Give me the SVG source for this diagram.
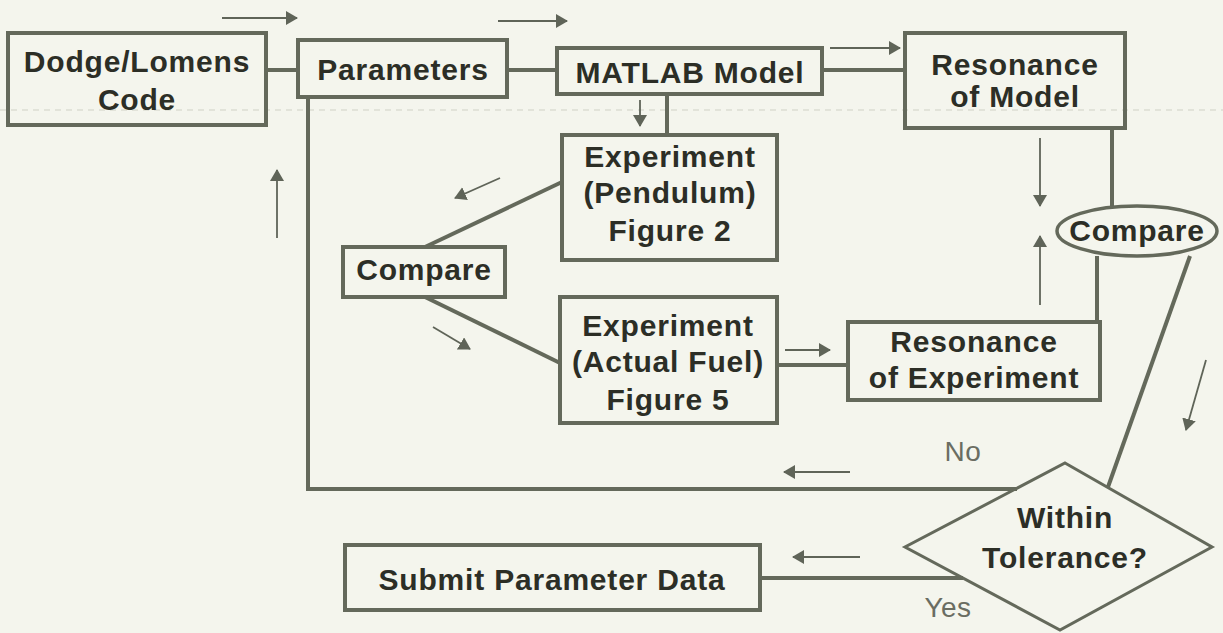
<svg xmlns="http://www.w3.org/2000/svg" width="1223" height="633" viewBox="0 0 1223 633">
<defs>
<style>
.bg{fill:#f4f5ed}
.box{fill:none;stroke:#64695b;stroke-width:4}
.ell{fill:none;stroke:#64695b;stroke-width:3.5}
.dia{fill:none;stroke:#64695b;stroke-width:3}
.con{fill:none;stroke:#64695b;stroke-width:4}
.arr{fill:none;stroke:#5f6458;stroke-width:1.8}
.t{font-family:"Liberation Sans",Arial,sans-serif;font-weight:bold;font-size:30px;letter-spacing:0.8px;fill:#2c2e26;text-anchor:middle}
.lbl{font-family:"Liberation Sans",Arial,sans-serif;font-size:28px;letter-spacing:0.5px;fill:#6a6d62;text-anchor:middle}
</style>
<marker id="ah" viewBox="0 0 12 14" refX="11" refY="7" markerWidth="12" markerHeight="14" markerUnits="userSpaceOnUse" orient="auto">
<path d="M0,0 L12,7 L0,14 z" fill="#5f6458"/>
</marker>
</defs>
<rect class="bg" x="0" y="0" width="1223" height="633"/>
<line x1="0" y1="110" x2="1223" y2="110" stroke="#cfd1c5" stroke-width="1" stroke-dasharray="6 5"/>

<g id="connectors">
<polyline class="con" points="265,70 298,70"/>
<polyline class="con" points="507,70 557,70"/>
<polyline class="con" points="822,70 905,70"/>
<polyline class="con" points="667,94 667,135"/>
<polyline class="con" points="308,97 308,489 1017,489"/>
<polyline class="con" points="1112,128 1112,207"/>
<polyline class="con" points="1097,256 1097,322"/>
<polyline class="con" points="1190,256 1108,487"/>
<polyline class="con" points="425,247 562,182"/>
<polyline class="con" points="425,297 560,363"/>
<polyline class="con" points="777,365 848,365"/>
<polyline class="con" points="760,578 963,578"/>
<line class="arr" x1="222" y1="18" x2="297" y2="18" marker-end="url(#ah)"/>
<line class="arr" x1="498" y1="21" x2="567" y2="21" marker-end="url(#ah)"/>
<line class="arr" x1="830" y1="48" x2="900" y2="48" marker-end="url(#ah)"/>
<line class="arr" x1="640" y1="100" x2="640" y2="126" marker-end="url(#ah)"/>
<line class="arr" x1="500" y1="178" x2="455" y2="198" marker-end="url(#ah)"/>
<line class="arr" x1="433" y1="327" x2="470" y2="349" marker-end="url(#ah)"/>
<line class="arr" x1="277" y1="238" x2="277" y2="170" marker-end="url(#ah)"/>
<line class="arr" x1="1040" y1="138" x2="1040" y2="206" marker-end="url(#ah)"/>
<line class="arr" x1="1040" y1="305" x2="1040" y2="236" marker-end="url(#ah)"/>
<line class="arr" x1="785" y1="350" x2="830" y2="350" marker-end="url(#ah)"/>
<line class="arr" x1="1206" y1="360" x2="1186" y2="430" marker-end="url(#ah)"/>
<line class="arr" x1="850" y1="472" x2="784" y2="472" marker-end="url(#ah)"/>
<line class="arr" x1="860" y1="557" x2="793" y2="557" marker-end="url(#ah)"/>
</g>

<g id="dodge">
<rect class="box" x="8" y="33" width="258" height="92"/>
<text class="t" x="137" y="72">Dodge/Lomens</text>
<text class="t" x="137" y="110">Code</text>
</g>
<g id="parameters">
<rect class="box" x="298" y="40" width="209" height="57"/>
<text class="t" x="403" y="80">Parameters</text>
</g>
<g id="matlab">
<rect class="box" x="557" y="48" width="265" height="46"/>
<text class="t" x="690" y="83">MATLAB Model</text>
</g>
<g id="res-model">
<rect class="box" x="905" y="33" width="220" height="95"/>
<text class="t" x="1015" y="75">Resonance</text>
<text class="t" x="1015" y="107">of Model</text>
</g>
<g id="exp-pendulum">
<rect class="box" x="562" y="135" width="215" height="125"/>
<text class="t" x="670" y="167">Experiment</text>
<text class="t" x="670" y="203">(Pendulum)</text>
<text class="t" x="670" y="241">Figure 2</text>
</g>
<g id="compare-left">
<rect class="box" x="343" y="247" width="162" height="50"/>
<text class="t" x="424" y="280">Compare</text>
</g>
<g id="exp-fuel">
<rect class="box" x="560" y="297" width="217" height="126"/>
<text class="t" x="668" y="336">Experiment</text>
<text class="t" x="668" y="372">(Actual Fuel)</text>
<text class="t" x="668" y="410">Figure 5</text>
</g>
<g id="res-exp">
<rect class="box" x="848" y="322" width="252" height="78"/>
<text class="t" x="974" y="352">Resonance</text>
<text class="t" x="974" y="388">of Experiment</text>
</g>
<g id="compare-right">
<ellipse class="ell" cx="1137" cy="231" rx="80" ry="25"/>
<text class="t" x="1137" y="241">Compare</text>
</g>
<g id="tolerance">
<polygon class="dia" points="1065,463 1212,547 1060,630 905,547"/>
<text class="t" x="1065" y="528">Within</text>
<text class="t" x="1065" y="568">Tolerance?</text>
</g>
<g id="submit">
<rect class="box" x="345" y="545" width="415" height="65"/>
<text class="t" x="552" y="590">Submit Parameter Data</text>
</g>
<g id="labels">
<text class="lbl" x="963" y="461">No</text>
<text class="lbl" x="948" y="617">Yes</text>
</g>
</svg>
